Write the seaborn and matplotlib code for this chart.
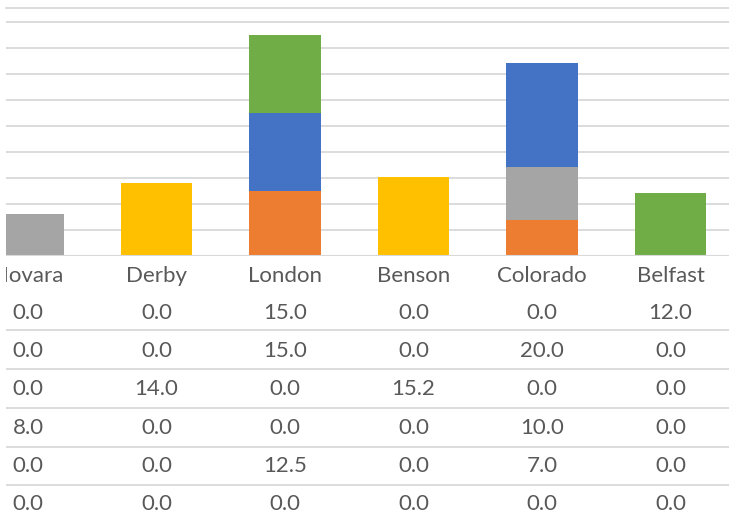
import pandas as pd
import numpy as np
import seaborn as sns
import matplotlib.pyplot as plt

cities = ['Novara', 'Derby', 'London', 'Benson', 'Colorado', 'Belfast']

# table rows, top row first (top row = top of the stack)
green_vals = [0.0, 0.0, 15.0, 0.0, 0.0, 12.0]
blue_vals = [0.0, 0.0, 15.0, 0.0, 20.0, 0.0]
yellow_vals = [0.0, 14.0, 0.0, 15.2, 0.0, 0.0]
gray_vals = [8.0, 0.0, 0.0, 0.0, 10.0, 0.0]
orange_vals = [0.0, 0.0, 12.5, 0.0, 7.0, 0.0]
last_vals = [0.0, 0.0, 0.0, 0.0, 0.0, 0.0]

rows = [green_vals, blue_vals, yellow_vals, gray_vals, orange_vals, last_vals]
row_colors = ['#70AD47', '#4472C4', '#FFC000', '#A5A5A5', '#ED7D31', '#5B9BD5']

GRID = '#D9D9D9'
TXT = '#595959'
FONT = 'Lato'
FS = 16

sns.set_style('white')
plt.rcParams['font.family'] = [FONT, 'DejaVu Sans']

W, H = 729, 522
fig = plt.figure(figsize=(W / 100, H / 100), dpi=100)

x_lo, x_hi = -0.171, 5.455
left = 6 / W
ax = fig.add_axes([left, (H - 256) / H, 1 - left, (256 - 8) / H])

# cumulative stacks, drawn from the top layer down so lower layers cover
df = pd.DataFrame({'city': cities})
cum = np.zeros(len(cities))
stack = []
for vals in reversed(rows):
    cum = cum + np.array(vals)
    stack.append(cum.copy())
stack = stack[::-1]  # stack[0] = full total (top layer)

for heights, col in zip(stack, row_colors):
    df['h'] = heights
    sns.barplot(data=df, x='city', y='h', color=col, width=0.553,
                linewidth=0, saturation=1, ax=ax, zorder=3)

ax.set_xlim(x_lo, x_hi)
ax.set_ylim(0, 47.6)
ax.set_yticks(np.arange(0, 50, 5))
ax.yaxis.grid(True, color=GRID, linewidth=1.3)
ax.set_axisbelow(True)
ax.set_xticks([])
ax.set_yticklabels([])
ax.tick_params(left=False)
ax.set_xlabel('')
ax.set_ylabel('')
for s in ['left', 'right', 'bottom']:
    ax.spines[s].set_visible(False)
ax.spines['top'].set_color(GRID)
ax.spines['top'].set_linewidth(1.3)
ax.axhline(0, color=GRID, linewidth=1.5, zorder=4)

# data table under the chart (y in pixels from the top of the figure)
tb = fig.add_axes([left, 0, 1 - left, (H - 256) / H])
tb.set_xlim(x_lo, x_hi)
tb.set_ylim(H, 256)
tb.axis('off')

label_y = 276
row_ys = [313, 351, 389, 428, 466, 504]
line_ys = [330, 369, 408, 447, 485]

for i, c in enumerate(cities):
    tb.text(i, label_y, c, ha='center', va='center', fontsize=FS,
            color=TXT, clip_on=True)
    for vals, ry in zip(rows, row_ys):
        tb.text(i, ry, f'{vals[i]:.1f}', ha='center', va='center',
                fontsize=FS, color=TXT, clip_on=True)

for ly in line_ys:
    tb.axhline(ly, color=GRID, linewidth=1.3)

fig.savefig('out.png', dpi=100)
